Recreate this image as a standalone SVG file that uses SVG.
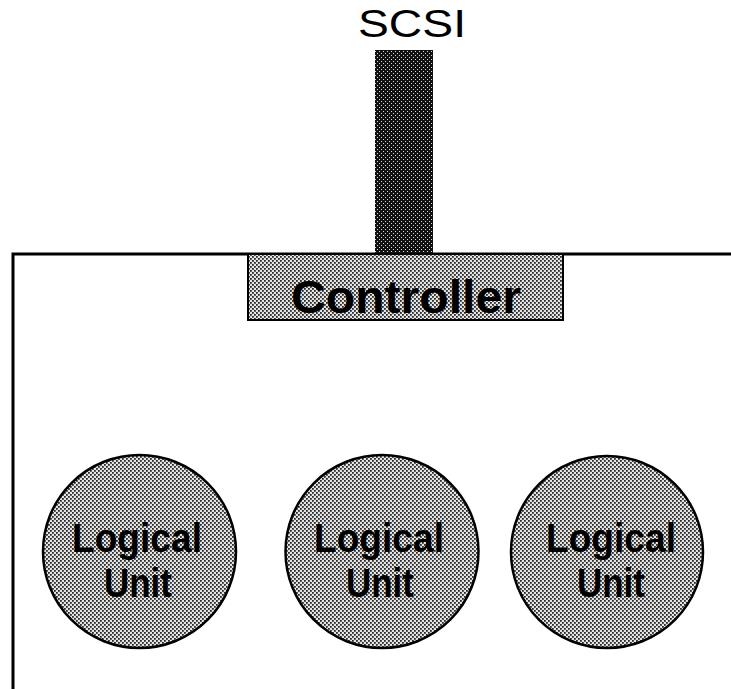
<svg xmlns="http://www.w3.org/2000/svg" width="731" height="689" viewBox="0 0 731 689">
  <defs>
    <!-- light halftone screen used for the controller and logical units -->
    <pattern id="screenLight" width="4" height="4" patternUnits="userSpaceOnUse">
      <rect width="4" height="4" fill="#e4e4e4"/>
      <rect x="0" y="0" width="1.8" height="1.8" fill="#2a2a2a"/>
      <rect x="2" y="2" width="1.8" height="1.8" fill="#2a2a2a"/>
    </pattern>
    <!-- dark halftone screen used for the SCSI bus -->
    <pattern id="screenDark" width="4" height="4" patternUnits="userSpaceOnUse">
      <rect width="4" height="4" fill="#111"/>
      <rect x="1" y="1" width="1" height="1" fill="#d8d8d8"/>
      <rect x="3" y="3" width="1" height="1" fill="#d8d8d8"/>
    </pattern>
    <style>
      .frame { fill: none; stroke: #000; stroke-width: 3; }
      .unit { fill: url(#screenLight); stroke: #000; stroke-width: 2.5; }
      .ctrl { fill: url(#screenLight); stroke: #000; stroke-width: 2; }
      .bus { fill: url(#screenDark); }
      .label { font-family: "Liberation Sans", Arial, Helvetica, sans-serif; font-weight: bold; fill: #000; text-anchor: middle; }
      .title { font-family: "Liberation Sans", Arial, Helvetica, sans-serif; fill: #000; }
    </style>
  </defs>

  <rect width="731" height="689" fill="#fff"/>

  <!-- device enclosure (open to the right and bottom) -->
  <g id="device">
    <path class="frame" d="M13 689 V254 H731"/>
  </g>

  <!-- SCSI bus entering the device -->
  <g id="connectors">
    <rect class="bus" x="375" y="50" width="58" height="204"/>
  </g>

  <g id="scsi">
    <text class="title" x="358" y="37" font-size="38" textLength="108" lengthAdjust="spacingAndGlyphs">SCSI</text>
  </g>

  <g id="controller">
    <rect class="ctrl" x="248" y="254" width="315" height="66"/>
    <text class="label" x="406" y="313" font-size="46" textLength="230" lengthAdjust="spacingAndGlyphs">Controller</text>
  </g>

  <g id="lu1">
    <circle class="unit" cx="139.5" cy="551.5" r="96.5"/>
    <text class="label" x="137" y="552" font-size="40" textLength="130" lengthAdjust="spacingAndGlyphs">Logical</text>
    <text class="label" x="138" y="597" font-size="40" textLength="68" lengthAdjust="spacingAndGlyphs">Unit</text>
  </g>

  <g id="lu2">
    <circle class="unit" cx="382" cy="551.5" r="96.5"/>
    <text class="label" x="379" y="552" font-size="40" textLength="130" lengthAdjust="spacingAndGlyphs">Logical</text>
    <text class="label" x="380" y="597" font-size="40" textLength="68" lengthAdjust="spacingAndGlyphs">Unit</text>
  </g>

  <g id="lu3">
    <circle class="unit" cx="607" cy="552" r="96"/>
    <text class="label" x="611" y="552" font-size="40" textLength="130" lengthAdjust="spacingAndGlyphs">Logical</text>
    <text class="label" x="611" y="597" font-size="40" textLength="68" lengthAdjust="spacingAndGlyphs">Unit</text>
  </g>
</svg>
